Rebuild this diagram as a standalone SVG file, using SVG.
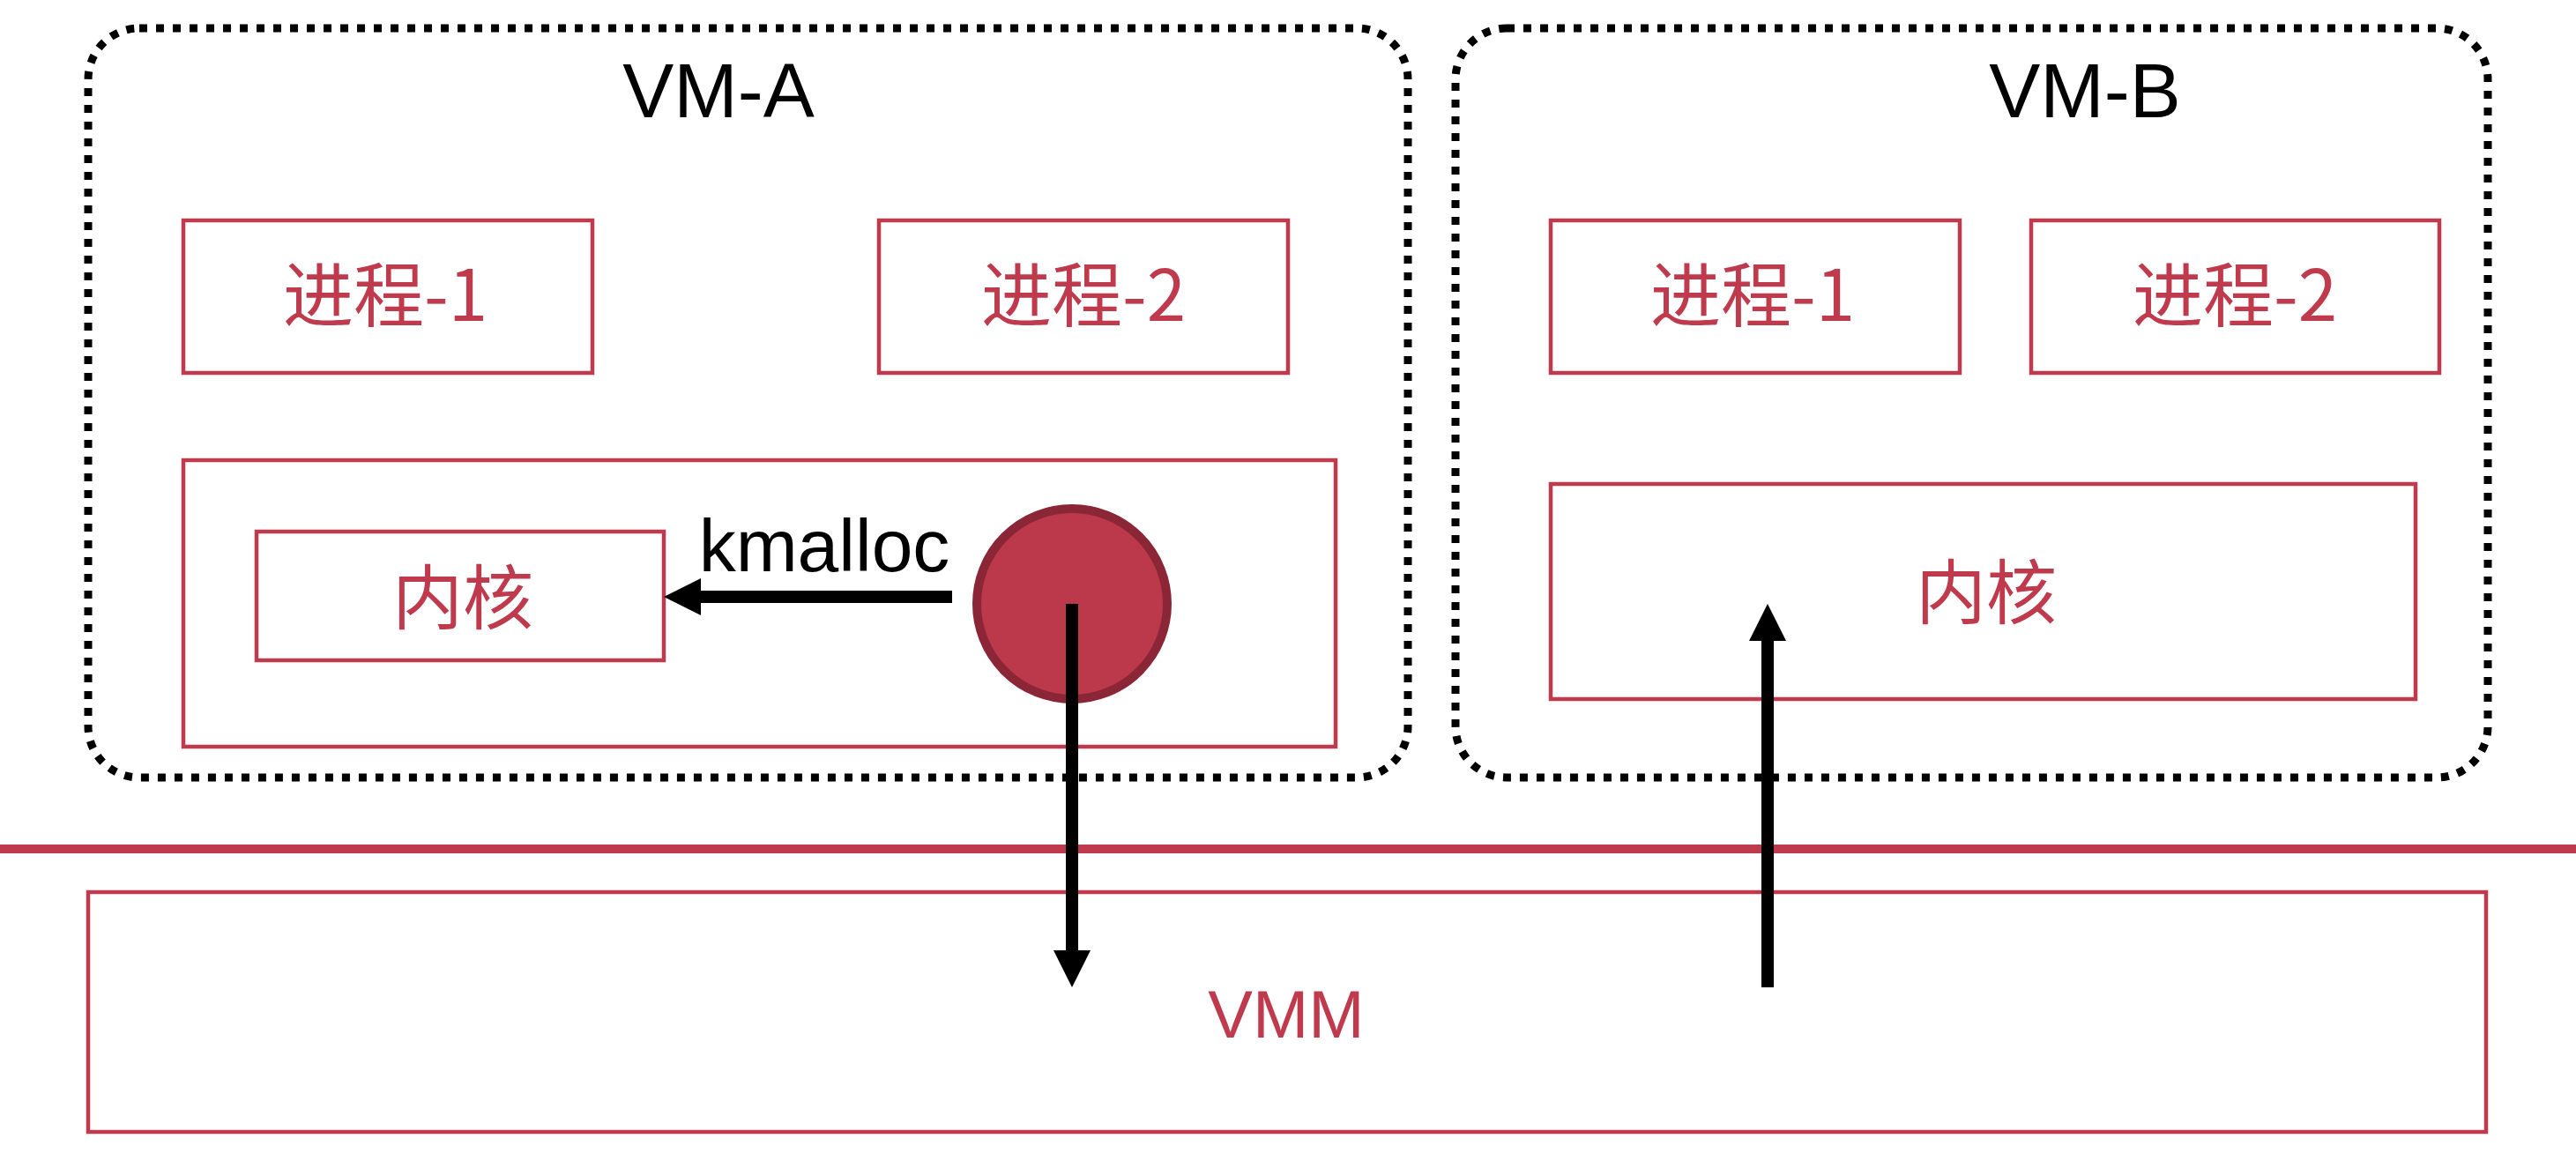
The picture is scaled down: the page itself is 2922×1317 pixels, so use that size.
<svg xmlns="http://www.w3.org/2000/svg" width="2922" height="1317" viewBox="0 0 2922 1317">
  <style>
    .vm { fill: none; stroke: #000; stroke-width: 9; stroke-dasharray: 9 10; }
    .box { fill: #fff; stroke: #BF3A4C; stroke-width: 4.5; }
    .title { font-family: "Liberation Sans", Arial, sans-serif; font-size: 87px; fill: #000; text-anchor: middle; }
    .cjk { font-family: "Noto Sans CJK SC", "Liberation Sans", sans-serif; font-size: 80px; fill: #BF3A4C; text-anchor: middle; }
    .lbl { font-family: "Liberation Sans", Arial, sans-serif; fill: #BF3A4C; text-anchor: middle; }
    .arrow { fill: none; stroke: #000; stroke-width: 14; }
  </style>
  <defs>
    <marker id="head" viewBox="0 0 42 42" refX="0" refY="21" markerWidth="42" markerHeight="42" markerUnits="userSpaceOnUse" orient="auto">
      <path d="M0,0 L42,21 L0,42 z" fill="#000"/>
    </marker>
  </defs>
  <rect width="2922" height="1317" fill="#fff"/>

  <g id="vm-a">
    <rect class="vm" x="100" y="32" width="1497" height="850" rx="58" ry="58"/>
    <text class="title" x="815" y="133">VM-A</text>
  </g>
  <g id="vm-b">
    <rect class="vm" x="1651" y="32" width="1171" height="850" rx="58" ry="58"/>
    <text class="title" x="2365" y="133">VM-B</text>
  </g>

  <g id="a-proc1">
    <rect class="box" x="208" y="250" width="464" height="173"/>
    <text class="cjk" x="437" y="364">进程-1</text>
  </g>
  <g id="a-proc2">
    <rect class="box" x="997" y="250" width="464" height="173"/>
    <text class="cjk" x="1229" y="364">进程-2</text>
  </g>
  <g id="a-kernel-area">
    <rect class="box" x="208" y="522" width="1307" height="325"/>
  </g>
  <g id="a-kernel">
    <rect class="box" x="291" y="603" width="462" height="146"/>
    <text class="cjk" x="525" y="707">内核</text>
  </g>
  <g id="page">
    <circle cx="1216" cy="685" r="108" fill="#BC384B" stroke="#8B2636" stroke-width="10"/>
  </g>

  <g id="b-proc1">
    <rect class="box" x="1759" y="250" width="464" height="173"/>
    <text class="cjk" x="1988" y="364">进程-1</text>
  </g>
  <g id="b-proc2">
    <rect class="box" x="2304" y="250" width="463" height="173"/>
    <text class="cjk" x="2535" y="364">进程-2</text>
  </g>
  <g id="b-kernel">
    <rect class="box" x="1759" y="549" width="981" height="244"/>
    <text class="cjk" x="2253" y="701">内核</text>
  </g>

  <g id="boundary">
    <line x1="0" y1="963" x2="2922" y2="963" stroke="#BF3A4C" stroke-width="10"/>
  </g>
  <g id="vmm">
    <rect class="box" x="100" y="1012" width="2720" height="272"/>
    <text class="lbl" x="1459" y="1177" font-size="76">VMM</text>
  </g>

  <g id="connectors">
    <line class="arrow" x1="1080" y1="677" x2="795" y2="677" marker-end="url(#head)"/>
    <text x="935" y="648" font-family="Liberation Sans, Arial, sans-serif" font-size="84" fill="#000" text-anchor="middle">kmalloc</text>
    <line class="arrow" x1="1216" y1="685" x2="1216" y2="1078" marker-end="url(#head)"/>
    <line class="arrow" x1="2005" y1="1120" x2="2005" y2="727" marker-end="url(#head)"/>
  </g>
</svg>
